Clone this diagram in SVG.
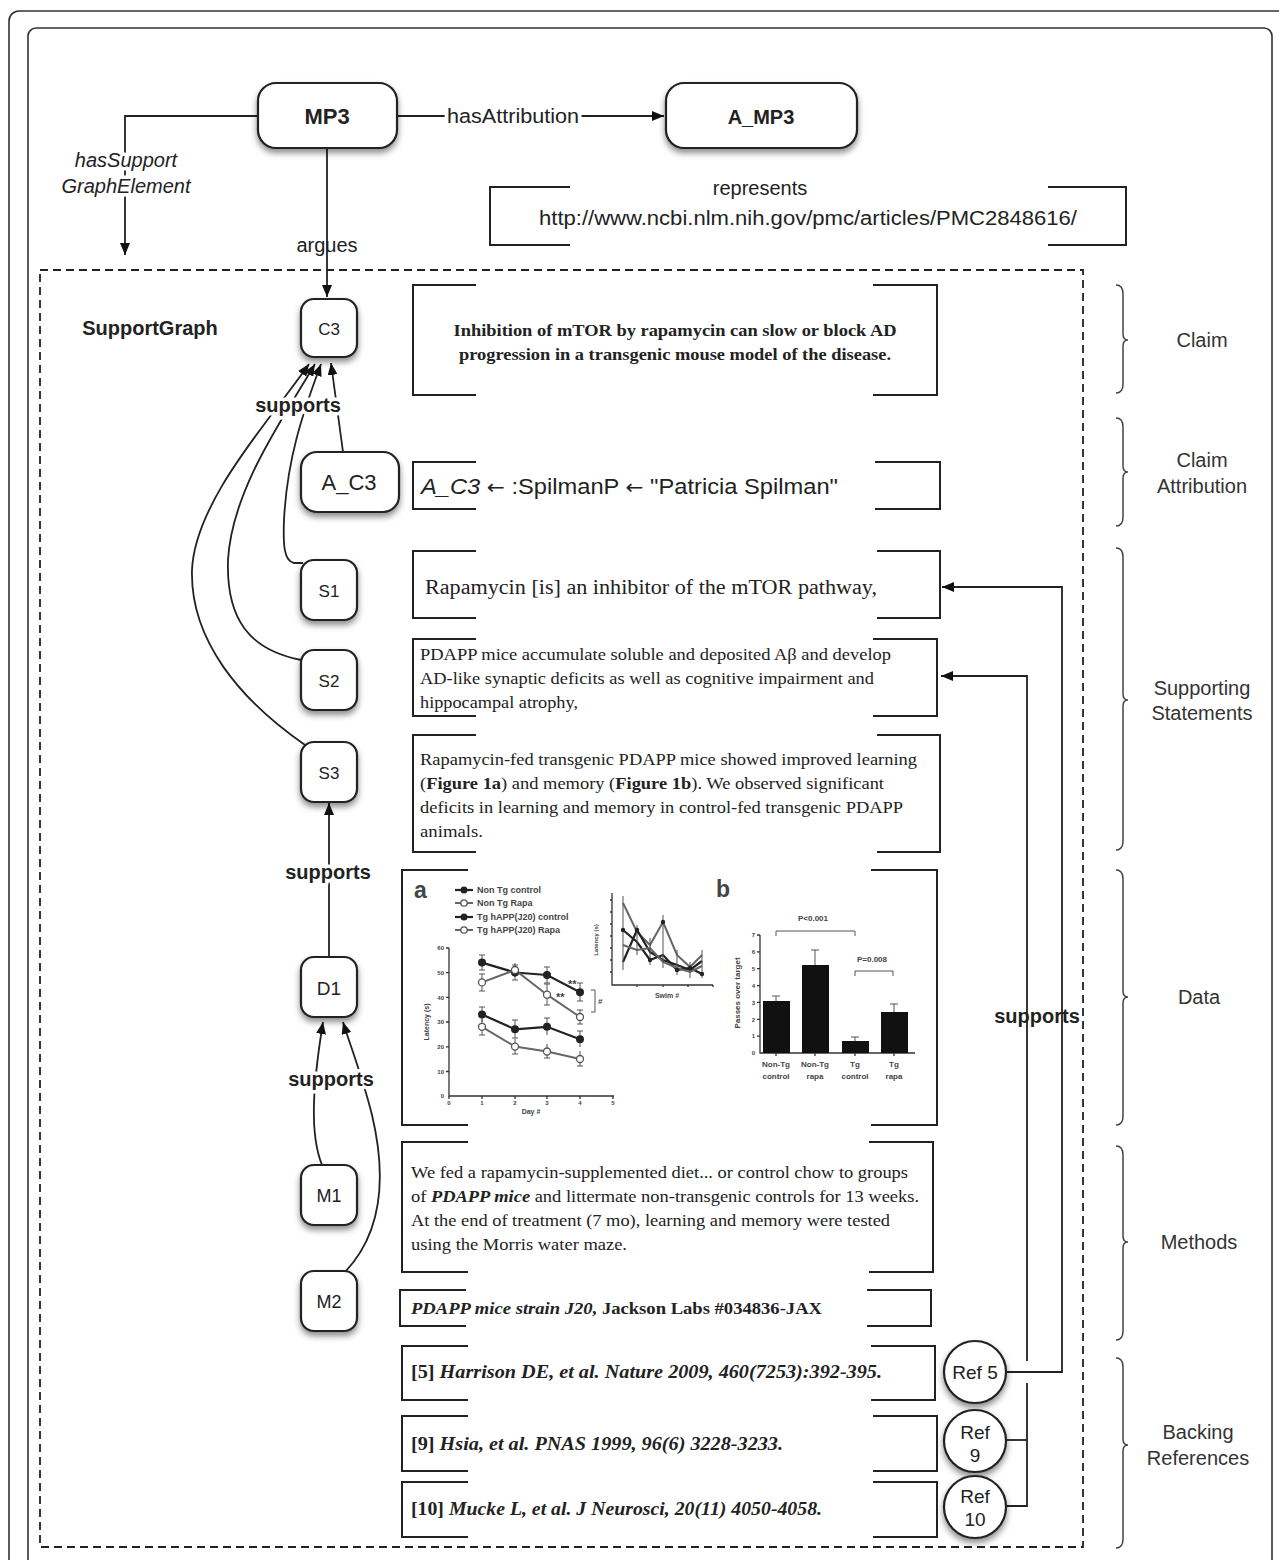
<svg xmlns="http://www.w3.org/2000/svg" width="1279" height="1560" viewBox="0 0 1279 1560">
<defs>
<marker id="arr" viewBox="0 0 12 10" refX="12" refY="5" markerWidth="12" markerHeight="10" markerUnits="userSpaceOnUse" orient="auto"><path d="M0,0 L12,5 L0,10 z" fill="#111"/></marker>
<filter id="sh" x="-30%" y="-30%" width="160%" height="170%"><feDropShadow dx="0" dy="4" stdDeviation="3" flood-color="#000" flood-opacity="0.45"/></filter>
</defs>
<style>
.frame{fill:none;stroke:#333;stroke-width:1.6}
.node{fill:#fff;stroke:#222;stroke-width:2.2;filter:url(#sh)}
.nt{font-family:"Liberation Sans",Arial,sans-serif;fill:#222;text-anchor:middle}
.conn{fill:none;stroke:#222;stroke-width:1.8}
.lbl{font-family:"Liberation Sans",Arial,sans-serif;font-size:20px;fill:#222;text-anchor:middle}
.halo{paint-order:stroke;stroke:#fff;stroke-width:7px;stroke-linejoin:round}
.bold{font-weight:bold}
.brk{fill:none;stroke:#222;stroke-width:2}
.ser{font-family:"Liberation Serif","Times New Roman",serif;fill:#222}
.side{font-family:"Liberation Sans",Arial,sans-serif;font-size:20px;fill:#333;text-anchor:middle}
.brace{fill:none;stroke:#444;stroke-width:1.5}
.ch{font-family:"Liberation Sans",Arial,sans-serif;fill:#444;font-weight:bold}
.ax{fill:none;stroke:#333;stroke-width:1.3}
.sl{fill:none;stroke:#222;stroke-width:2.2}
.sg{fill:none;stroke:#666;stroke-width:2}
.eb{fill:none;stroke:#555;stroke-width:1}
</style>
<rect x="0" y="0" width="1279" height="1560" fill="#fff"/>
<rect class="frame" x="9" y="11" width="1300" height="1600" rx="10"/>
<rect class="frame" x="28" y="28" width="1244" height="1600" rx="8" stroke-width="2"/>
<rect x="40" y="270" width="1043" height="1277" fill="none" stroke="#222" stroke-width="1.8" stroke-dasharray="8 5"/>
<text class="lbl bold" x="150" y="335">SupportGraph</text>

<!-- connectors -->
<g id="connectors">
<path class="conn" d="M397,116 L664,116" marker-end="url(#arr)"/>
<path class="conn" d="M258,116 L125,116 L125,255" marker-end="url(#arr)"/>
<path class="conn" d="M327,148 L327,297" marker-end="url(#arr)"/>
<path class="conn" d="M343,452 L331,363" marker-end="url(#arr)"/>
<path class="conn" d="M303,563 L294,563 C284,561 283,545 284,520 C287,460 302,415 321,364" marker-end="url(#arr)"/>
<path class="conn" d="M301,660 C250,650 226,620 228,560 C232,490 282,420 315,364" marker-end="url(#arr)"/>
<path class="conn" d="M305,745 C240,700 190,640 192,570 C195,500 272,418 309,364" marker-end="url(#arr)"/>
<path class="conn" d="M329,957 L329,803" marker-end="url(#arr)"/>
<path class="conn" d="M322,1165 C310,1135 312,1090 323,1022" marker-end="url(#arr)"/>
<path class="conn" d="M345,1272 C385,1230 385,1170 372,1115 C362,1075 350,1045 343,1022" marker-end="url(#arr)"/>
<path class="conn" d="M1006,1372 L1062,1372 L1062,587 L942,587" marker-end="url(#arr)"/>
<path class="conn" d="M1006,1440 L1027,1440"/>
<path class="conn" d="M1006,1506 L1027,1506 L1027,1383 M1027,1361 L1027,676 L941,676" marker-end="url(#arr)"/>
<text class="lbl halo" x="513" y="123" textLength="132" lengthAdjust="spacingAndGlyphs">hasAttribution</text>
<text class="lbl halo" x="126" y="167" font-style="italic">hasSupport</text>
<text class="lbl halo" x="126" y="193" font-style="italic">GraphElement</text>
<text class="lbl" x="327" y="252">argues</text>
<text class="lbl bold halo" x="298" y="412">supports</text>
<text class="lbl bold halo" x="328" y="879">supports</text>
<text class="lbl bold halo" x="331" y="1086">supports</text>
<text class="lbl bold" x="1037" y="1023">supports</text>
</g>

<!-- nodes -->
<g id="MP3"><rect class="node" x="258" y="83" width="139" height="65" rx="18"/><text class="nt bold" x="327" y="124" font-size="22">MP3</text></g>
<g id="A_MP3"><rect class="node" x="666" y="83" width="191" height="65" rx="18"/><text class="nt bold" x="761" y="124" font-size="20">A_MP3</text></g>
<g id="C3"><rect class="node" x="301" y="299" width="56" height="58" rx="13"/><text class="nt" x="329" y="335" font-size="17">C3</text></g>
<g id="A_C3"><rect class="node" x="301" y="452" width="98" height="60" rx="16"/><text class="nt" x="349" y="490" font-size="22">A_C3</text></g>
<g id="S1"><rect class="node" x="301" y="560" width="56" height="60" rx="13"/><text class="nt" x="329" y="597" font-size="17">S1</text></g>
<g id="S2"><rect class="node" x="301" y="650" width="56" height="60" rx="13"/><text class="nt" x="329" y="687" font-size="17">S2</text></g>
<g id="S3"><rect class="node" x="301" y="742" width="56" height="60" rx="13"/><text class="nt" x="329" y="779" font-size="17">S3</text></g>
<g id="D1"><rect class="node" x="301" y="957" width="56" height="60" rx="13"/><text class="nt" x="329" y="995" font-size="19">D1</text></g>
<g id="M1"><rect class="node" x="301" y="1165" width="56" height="60" rx="13"/><text class="nt" x="329" y="1202" font-size="18">M1</text></g>
<g id="M2"><rect class="node" x="301" y="1271" width="56" height="60" rx="13"/><text class="nt" x="329" y="1308" font-size="18">M2</text></g>
<g id="Ref5"><circle class="node" cx="975" cy="1372" r="31"/><text class="nt" x="975" y="1379" font-size="19">Ref 5</text></g>
<g id="Ref9"><circle class="node" cx="975" cy="1441" r="31"/><text class="nt" x="975" y="1439" font-size="19">Ref</text><text class="nt" x="975" y="1462" font-size="19">9</text></g>
<g id="Ref10"><circle class="node" cx="975" cy="1507" r="31"/><text class="nt" x="975" y="1503" font-size="19">Ref</text><text class="nt" x="975" y="1526" font-size="19">10</text></g>

<!-- represents box -->
<g id="represents">
<path class="brk" d="M570,187 L490,187 L490,245 L570,245 M1048,187 L1126,187 L1126,245 L1048,245"/>
<text class="lbl" x="760" y="195">represents</text>
<text class="lbl" x="808" y="225" textLength="538" lengthAdjust="spacingAndGlyphs">http://www.ncbi.nlm.nih.gov/pmc/articles/PMC2848616/</text>
</g>

<!-- claim -->
<g id="claim-box">
<path class="brk" d="M476,285 L413,285 L413,395 L476,395 M873,285 L937,285 L937,395 L873,395"/>
<text class="ser bold" x="675" y="336" font-size="17" text-anchor="middle" textLength="443" lengthAdjust="spacingAndGlyphs">Inhibition of mTOR by rapamycin can slow or block AD</text>
<text class="ser bold" x="675" y="360" font-size="17" text-anchor="middle" textLength="432" lengthAdjust="spacingAndGlyphs">progression in a transgenic mouse model of the disease.</text>
</g>
<g id="attribution-box">
<path class="brk" d="M476,462 L413,462 L413,509 L476,509 M875,462 L940,462 L940,509 L875,509"/>
<text x="421" y="494" font-family="'Liberation Sans',Arial,sans-serif" font-size="22" fill="#222" textLength="417" lengthAdjust="spacingAndGlyphs"><tspan font-style="italic">A_C3</tspan> <tspan font-family="'DejaVu Sans',sans-serif" font-size="20">←</tspan> :SpilmanP <tspan font-family="'DejaVu Sans',sans-serif" font-size="20">←</tspan> "Patricia Spilman"</text>
</g>
<g id="s1-box">
<path class="brk" d="M476,551 L413,551 L413,618 L476,618 M877,551 L940,551 L940,618 L877,618"/>
<text class="ser" x="425" y="594" font-size="20" textLength="452" lengthAdjust="spacingAndGlyphs">Rapamycin [is] an inhibitor of the mTOR pathway,</text>
</g>
<g id="s2-box">
<path class="brk" d="M476,639 L413,639 L413,716 L476,716 M873,639 L937,639 L937,716 L873,716"/>
<text class="ser" x="420" y="660" font-size="16.5" textLength="471" lengthAdjust="spacingAndGlyphs">PDAPP mice accumulate soluble and deposited Aβ and develop</text>
<text class="ser" x="420" y="684" font-size="16.5" textLength="454" lengthAdjust="spacingAndGlyphs">AD-like synaptic deficits as well as cognitive impairment and</text>
<text class="ser" x="420" y="708" font-size="16.5" textLength="158" lengthAdjust="spacingAndGlyphs">hippocampal atrophy,</text>
</g>
<g id="s3-box">
<path class="brk" d="M476,735 L413,735 L413,852 L476,852 M877,735 L940,735 L940,852 L877,852"/>
<text class="ser" x="420" y="765" font-size="16.5" textLength="497" lengthAdjust="spacingAndGlyphs">Rapamycin-fed transgenic PDAPP mice showed improved learning</text>
<text class="ser" x="420" y="789" font-size="16.5" textLength="464" lengthAdjust="spacingAndGlyphs">(<tspan font-weight="bold">Figure 1a</tspan>) and memory (<tspan font-weight="bold">Figure 1b</tspan>). We observed significant</text>
<text class="ser" x="420" y="813" font-size="16.5" textLength="483" lengthAdjust="spacingAndGlyphs">deficits in learning and memory in control-fed transgenic PDAPP</text>
<text class="ser" x="420" y="837" font-size="16.5" textLength="63" lengthAdjust="spacingAndGlyphs">animals.</text>
</g>

<!-- data figure -->
<g id="data-box">
<path class="brk" d="M468,870 L402,870 L402,1125 L468,1125 M871,870 L937,870 L937,1125 L871,1125"/>
<text class="ch" x="414" y="898" font-size="23" fill="#222">a</text>
<text class="ch" x="716" y="897" font-size="23" fill="#222">b</text>
<g>
<path class="sl" d="M455,890 L473,890"/><circle cx="464" cy="890" r="3.5" fill="#222"/>
<path class="sg" d="M455,903 L473,903"/><circle cx="464" cy="903" r="3.2" fill="#fff" stroke="#555" stroke-width="1.3"/>
<path class="sl" d="M455,917 L473,917"/><circle cx="464" cy="917" r="3.5" fill="#222"/>
<path class="sg" d="M455,930 L473,930"/><circle cx="464" cy="930" r="3.2" fill="#fff" stroke="#555" stroke-width="1.3"/>
<text class="ch" x="477" y="893" font-size="9">Non Tg control</text>
<text class="ch" x="477" y="906" font-size="9">Non Tg Rapa</text>
<text class="ch" x="477" y="920" font-size="9">Tg hAPP(J20) control</text>
<text class="ch" x="477" y="933" font-size="9">Tg hAPP(J20) Rapa</text>
</g>
<path class="ax" d="M449,948 L449,1096 L614,1096"/>
<path class="ax" d="M446,948 L449,948 M446,972.7 L449,972.7 M446,997.4 L449,997.4 M446,1022 L449,1022 M446,1046.8 L449,1046.8 M446,1071.5 L449,1071.5 M449,1096 L449,1099 M482,1096 L482,1099 M515,1096 L515,1099 M547,1096 L547,1099 M580,1096 L580,1099 M613,1096 L613,1099"/>
<g class="ch" font-size="6" text-anchor="end">
<text x="444" y="950">60</text><text x="444" y="975">50</text><text x="444" y="1000">40</text><text x="444" y="1024">30</text><text x="444" y="1049">20</text><text x="444" y="1074">10</text><text x="444" y="1098">0</text>
</g>
<g class="ch" font-size="6" text-anchor="middle">
<text x="449" y="1105">0</text><text x="482" y="1105">1</text><text x="515" y="1105">2</text><text x="547" y="1105">3</text><text x="580" y="1105">4</text><text x="613" y="1105">5</text>
</g>
<text class="ch" x="531" y="1114" font-size="7" text-anchor="middle">Day #</text>
<text class="ch" x="0" y="0" font-size="7" text-anchor="middle" transform="translate(429,1022) rotate(-90)">Latency (s)</text>
<path class="eb" d="M482,955 L482,970 M479,955 L485,955 M479,970 L485,970 M515,965 L515,980 M512,965 L518,965 M512,980 L518,980 M547,967 L547,983 M544,967 L550,967 M544,983 L550,983 M580,983 L580,1001 M577,983 L583,983 M577,1001 L583,1001"/>
<path class="eb" d="M482,974 L482,991 M479,974 L485,974 M479,991 L485,991 M515,963 L515,977 M547,984 L547,1005 M544,984 L550,984 M544,1005 L550,1005 M580,1010 L580,1024 M577,1010 L583,1010 M577,1024 L583,1024"/>
<path class="eb" d="M482,1007 L482,1022 M479,1007 L485,1007 M515,1020 L515,1038 M512,1020 L518,1020 M512,1038 L518,1038 M547,1018 L547,1035 M544,1018 L550,1018 M580,1031 L580,1047 M577,1031 L583,1031"/>
<path class="eb" d="M482,1019 L482,1035 M479,1035 L485,1035 M515,1039 L515,1054 M512,1054 L518,1054 M547,1044 L547,1058 M544,1058 L550,1058 M580,1051 L580,1066 M577,1066 L583,1066"/>
<polyline class="sl" points="482,962.6 515,972.5 547,975 580,992.3"/>
<polyline class="sg" points="482,982.4 515,970 547,994.7 580,1017"/>
<polyline class="sl" points="482,1014.5 515,1029.3 547,1026.8 580,1039.2"/>
<polyline class="sg" points="482,1026.8 515,1046.6 547,1051.5 580,1059"/>
<g fill="#222"><circle cx="482" cy="962.6" r="4"/><circle cx="515" cy="972.5" r="4"/><circle cx="547" cy="975" r="4"/><circle cx="580" cy="992.3" r="4"/>
<circle cx="482" cy="1014.5" r="4"/><circle cx="515" cy="1029.3" r="4"/><circle cx="547" cy="1026.8" r="4"/><circle cx="580" cy="1039.2" r="4"/></g>
<g fill="#fff" stroke="#555" stroke-width="1.3"><circle cx="482" cy="982.4" r="3.5"/><circle cx="515" cy="970" r="3.5"/><circle cx="547" cy="994.7" r="3.5"/><circle cx="580" cy="1017" r="3.5"/>
<circle cx="482" cy="1026.8" r="3.5"/><circle cx="515" cy="1046.6" r="3.5"/><circle cx="547" cy="1051.5" r="3.5"/><circle cx="580" cy="1059" r="3.5"/></g>
<text class="ch" x="568" y="988" font-size="11" fill="#333">**</text>
<text class="ch" x="556" y="1001" font-size="11" fill="#333">**</text>
<path class="eb" d="M591,990 L595,990 L595,1012 L591,1012" stroke-width="1.3"/>
<text class="ch" x="598" y="1004" font-size="8">#</text>
<path class="ax" d="M612,893 L612,985 L713,985"/>
<path class="ax" d="M610,900 L612,900 M610,912 L612,912 M610,924 L612,924 M610,936 L612,936 M610,948 L612,948 M610,960 L612,960 M610,972 L612,972 M637,985 L637,987 M663,985 L663,987 M688,985 L688,987 M713,985 L713,987" stroke-width="1"/>
<text class="ch" x="667" y="998" font-size="7" text-anchor="middle">Swim #</text>
<text class="ch" x="0" y="0" font-size="6" text-anchor="middle" transform="translate(598,940) rotate(-90)">Latency (s)</text>
<polyline class="sg" points="623,903 637,932 650,945 663,922 677,955 690,967 702,955"/>
<polyline class="sl" stroke-width="1.6" points="623,930 637,942 650,960 663,955 677,970 690,968 702,974"/>
<polyline class="sl" stroke-width="1.6" points="623,962 637,930 650,952 663,960 677,965 690,970 702,961"/>
<polyline class="sg" stroke-width="1.6" points="623,945 637,950 650,948 663,962 677,968 690,972 702,966"/>
<path class="eb" d="M623,896 L623,970 M637,925 L637,955 M650,938 L650,965 M663,915 L663,968 M677,950 L677,975 M690,962 L690,978 M702,950 L702,978"/>
<g fill="#222"><circle cx="623" cy="930" r="2.2"/><circle cx="637" cy="930" r="2.2"/><circle cx="650" cy="960" r="2.2"/><circle cx="663" cy="922" r="2.2"/><circle cx="677" cy="970" r="2.2"/><circle cx="690" cy="968" r="2.2"/><circle cx="702" cy="974" r="2.2"/></g>
<path class="ax" d="M760,935 L760,1053 L915,1053"/>
<path class="ax" d="M757,935 L760,935 M757,951.9 L760,951.9 M757,968.7 L760,968.7 M757,985.6 L760,985.6 M757,1002.4 L760,1002.4 M757,1019.3 L760,1019.3 M757,1036.1 L760,1036.1 M776,1053 L776,1056 M815,1053 L815,1056 M855,1053 L855,1056 M894,1053 L894,1056" stroke-width="1"/>
<g class="ch" font-size="6" text-anchor="end">
<text x="755" y="937">7</text><text x="755" y="954">6</text><text x="755" y="971">5</text><text x="755" y="988">4</text><text x="755" y="1005">3</text><text x="755" y="1022">2</text><text x="755" y="1038">1</text><text x="755" y="1055">0</text>
</g>
<text class="ch" x="0" y="0" font-size="8" text-anchor="middle" transform="translate(740,993) rotate(-90)">Passes over target</text>
<path class="eb" stroke="#222" stroke-width="1.5" d="M776,1001 L776,996 M772,996 L780,996 M815,965 L815,950 M811,950 L819,950 M855,1041 L855,1037 M851,1037 L859,1037 M894,1012 L894,1004 M890,1004 L898,1004"/>
<g fill="#111"><rect x="763" y="1001" width="27" height="52"/><rect x="802" y="965" width="27" height="88"/><rect x="842" y="1041" width="27" height="12"/><rect x="881" y="1012" width="27" height="41"/></g>
<g class="ch" font-size="8" text-anchor="middle">
<text x="776" y="1067">Non-Tg</text><text x="776" y="1079">control</text>
<text x="815" y="1067">Non-Tg</text><text x="815" y="1079">rapa</text>
<text x="855" y="1067">Tg</text><text x="855" y="1079">control</text>
<text x="894" y="1067">Tg</text><text x="894" y="1079">rapa</text>
<text x="813" y="921">P&lt;0.001</text>
<text x="872" y="962">P=0.008</text>
</g>
<path class="eb" stroke="#333" stroke-width="1.3" d="M776,936 L776,931 L855,931 L855,936 M855,976 L855,971 L893,971 L893,976"/>
</g>

<!-- methods -->
<g id="methods-box">
<path class="brk" d="M468,1142 L402,1142 L402,1272 L468,1272 M869,1142 L933,1142 L933,1272 L869,1272"/>
<text class="ser" x="411" y="1178" font-size="16.5" textLength="497" lengthAdjust="spacingAndGlyphs">We fed a rapamycin-supplemented diet... or control chow to groups</text>
<text class="ser" x="411" y="1202" font-size="16.5" textLength="508" lengthAdjust="spacingAndGlyphs">of <tspan font-weight="bold" font-style="italic">PDAPP mice</tspan> and littermate non-transgenic controls for 13 weeks.</text>
<text class="ser" x="411" y="1226" font-size="16.5" textLength="479" lengthAdjust="spacingAndGlyphs">At the end of treatment (7 mo), learning and memory were tested</text>
<text class="ser" x="411" y="1250" font-size="16.5" textLength="216" lengthAdjust="spacingAndGlyphs">using the Morris water maze.</text>
</g>
<g id="strain-box">
<path class="brk" d="M466,1290 L400,1290 L400,1326 L466,1326 M867,1290 L931,1290 L931,1326 L867,1326"/>
<text class="ser bold" x="411" y="1314" font-size="17" textLength="411" lengthAdjust="spacingAndGlyphs"><tspan font-style="italic">PDAPP mice strain J20,</tspan>  Jackson Labs #034836-JAX</text>
</g>
<g id="ref5-box">
<path class="brk" d="M468,1346 L402,1346 L402,1400 L468,1400 M871,1346 L935,1346 L935,1400 L871,1400"/>
<text class="ser bold" x="411" y="1378" font-size="18" textLength="471" lengthAdjust="spacingAndGlyphs">[5] <tspan font-style="italic">Harrison DE, et al. Nature 2009, 460(7253):392-395.</tspan></text>
</g>
<g id="ref9-box">
<path class="brk" d="M468,1416 L402,1416 L402,1471 L468,1471 M873,1416 L937,1416 L937,1471 L873,1471"/>
<text class="ser bold" x="411" y="1450" font-size="18" textLength="372" lengthAdjust="spacingAndGlyphs">[9] <tspan font-style="italic">Hsia, et al. PNAS 1999, 96(6) 3228-3233.</tspan></text>
</g>
<g id="ref10-box">
<path class="brk" d="M468,1482 L402,1482 L402,1537 L468,1537 M873,1482 L937,1482 L937,1537 L873,1537"/>
<text class="ser bold" x="411" y="1515" font-size="18" textLength="411" lengthAdjust="spacingAndGlyphs">[10] <tspan font-style="italic">Mucke L, et al. J Neurosci, 20(11) 4050-4058.</tspan></text>
</g>

<!-- braces -->
<g id="braces">
<path class="brace" d="M1116,285 Q1123,285 1123,294 L1123,334 Q1123,340 1128,340 Q1123,340 1123,346 L1123,384 Q1123,393 1116,393"/>
<path class="brace" d="M1116,418 Q1123,418 1123,427 L1123,466 Q1123,472 1128,472 Q1123,472 1123,478 L1123,517 Q1123,526 1116,526"/>
<path class="brace" d="M1116,548 Q1123,548 1123,557 L1123,694 Q1123,700 1128,700 Q1123,700 1123,706 L1123,841 Q1123,850 1116,850"/>
<path class="brace" d="M1116,870 Q1123,870 1123,879 L1123,991 Q1123,997 1128,997 Q1123,997 1123,1003 L1123,1116 Q1123,1125 1116,1125"/>
<path class="brace" d="M1116,1146 Q1123,1146 1123,1155 L1123,1236 Q1123,1242 1128,1242 Q1123,1242 1123,1248 L1123,1331 Q1123,1340 1116,1340"/>
<path class="brace" d="M1116,1358 Q1123,1358 1123,1367 L1123,1439 Q1123,1445 1128,1445 Q1123,1445 1123,1451 L1123,1539 Q1123,1548 1116,1548"/>
<text class="side" x="1202" y="347">Claim</text>
<text class="side" x="1202" y="467">Claim</text>
<text class="side" x="1202" y="493">Attribution</text>
<text class="side" x="1202" y="695">Supporting</text>
<text class="side" x="1202" y="720">Statements</text>
<text class="side" x="1199" y="1004">Data</text>
<text class="side" x="1199" y="1249">Methods</text>
<text class="side" x="1198" y="1439">Backing</text>
<text class="side" x="1198" y="1465">References</text>
</g>
</svg>
